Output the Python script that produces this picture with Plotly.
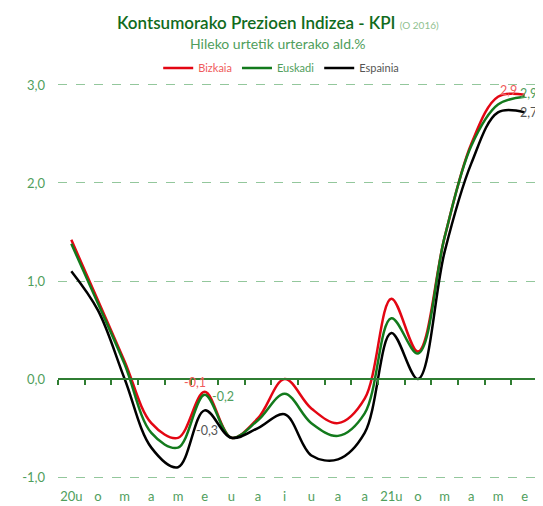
import plotly.graph_objects as go

# months: 2020 Jan..Dec, 2021 Jan..Jun (Basque initials)
months = ["20u", "o", "m", "a", "m", "e", "u", "a", "i", "u", "a", "a",
          "21u", "o", "m", "a", "m", "e"]

bizkaia = [1.42, 0.80, 0.18, -0.45, -0.60, -0.13, -0.60, -0.40, 0.00, -0.30, -0.45, -0.20,
           0.82, 0.28, 1.45, 2.40, 2.88, 2.90]
euskadi = [1.38, 0.77, 0.15, -0.55, -0.70, -0.16, -0.60, -0.42, -0.15, -0.45, -0.58, -0.35,
           0.62, 0.26, 1.45, 2.38, 2.80, 2.88]
espainia = [1.10, 0.70, 0.00, -0.70, -0.90, -0.32, -0.60, -0.50, -0.36, -0.78, -0.82, -0.55,
            0.47, 0.00, 1.30, 2.20, 2.72, 2.72]

y_ticks = [-1, 0, 1, 2, 3]

FONT = "Lato"
AXIS_GREEN = "#2f7d32"
LABEL_GREEN = "#4f9e5c"

Y_MIN, Y_MAX = -1.02, 3.02


def fmt(v):
    return f"{v:.1f}".replace(".", ",").replace("-0,0", "0,0")


x = list(range(len(months)))

series = [
    ("Bizkaia", bizkaia, "#e30613", "#ef5b5b"),
    ("Euskadi", euskadi, "#137a1c", LABEL_GREEN),
    ("Espainia", espainia, "#000000", "#555555"),
]

fig = go.Figure()
for name, vals, color, txt in series:
    fig.add_trace(go.Scatter(
        x=x, y=vals, mode="lines",
        name=f"<span style='color:{txt}'>{name}</span>",
        line=dict(color=color, width=2.5, shape="spline", smoothing=1),
        hoverinfo="skip",
    ))

# invisible helper so the zero-line axis with boundary ticks is drawn
fig.add_trace(go.Scatter(x=x, y=espainia, xaxis="x2", mode="markers",
                         marker=dict(opacity=0), showlegend=False, hoverinfo="skip"))

# data labels: (series index, point index, anchor, xshift, yshift)
labels = [
    (0, 5, "right", 2, 9),
    (1, 5, "left", 6, -2),
    (2, 5, "center", 2, -20),
    (0, 17, "right", -7, 4),
    (1, 17, "left", -6, 3),
    (2, 17, "left", -6, 0),
]
for si, pi, anchor, dx, dy in labels:
    name, vals, color, txt = series[si]
    fig.add_annotation(x=x[pi], y=vals[pi], text=fmt(vals[pi]), showarrow=False,
                       xanchor=anchor, yanchor="middle", xshift=dx, yshift=dy,
                       borderpad=0, font=dict(family=FONT, size=12.5, color=txt))

fig.add_annotation(
    xref="paper", yref="paper", x=0.458, y=1.154, xanchor="center", yanchor="middle",
    text="Kontsumorako Prezioen Indizea - KPI <span style='font-size:10px;color:#8fbf8f;font-weight:400'>(O 2016)</span>",
    showarrow=False, font=dict(family=FONT, size=17, color="#116b1d", weight=600))
fig.add_annotation(
    xref="paper", yref="paper", x=0.458, y=1.101, xanchor="center", yanchor="middle",
    text="Hileko urtetik urterako ald.%", showarrow=False,
    font=dict(family=FONT, size=14, color=LABEL_GREEN))

# page body adds an 8px offset, so the figure is 8px smaller than the window
fig.update_layout(
    width=535, height=498,
    margin=dict(l=50, r=5, t=75, b=27, autoexpand=False),
    paper_bgcolor="white", plot_bgcolor="white",
    font=dict(family=FONT, size=13, color=LABEL_GREEN),
    showlegend=True,
    legend=dict(orientation="h", x=0.465, y=1.038, xanchor="center", yanchor="middle",
                font=dict(family=FONT, size=11), itemwidth=30, bgcolor="rgba(0,0,0,0)"),
    xaxis=dict(range=[-0.5, len(months) - 0.5], tickvals=x, ticktext=months,
               showgrid=False, zeroline=False, showline=False, ticks="",
               ticklabelstandoff=8, tickfont=dict(family=FONT, size=13, color=LABEL_GREEN)),
    xaxis2=dict(range=[-0.5, len(months) - 0.5], overlaying="x", anchor="free",
                position=(0 - Y_MIN) / (Y_MAX - Y_MIN), side="bottom",
                tickvals=[i - 0.5 for i in range(len(months) + 1)],
                ticks="outside", ticklen=5, tickwidth=1.5, tickcolor=AXIS_GREEN,
                showticklabels=False, showgrid=False, zeroline=False,
                showline=True, linecolor=AXIS_GREEN, linewidth=2),
    yaxis=dict(range=[Y_MIN, Y_MAX], tickvals=y_ticks, ticktext=[fmt(v) for v in y_ticks],
               showgrid=True, gridcolor="#93c79c", griddash="dash", gridwidth=1,
               zeroline=False, showline=False, ticks="", ticklabelstandoff=12,
               tickfont=dict(family=FONT, size=13, color=LABEL_GREEN)),
)

fig.write_html("out.html")
